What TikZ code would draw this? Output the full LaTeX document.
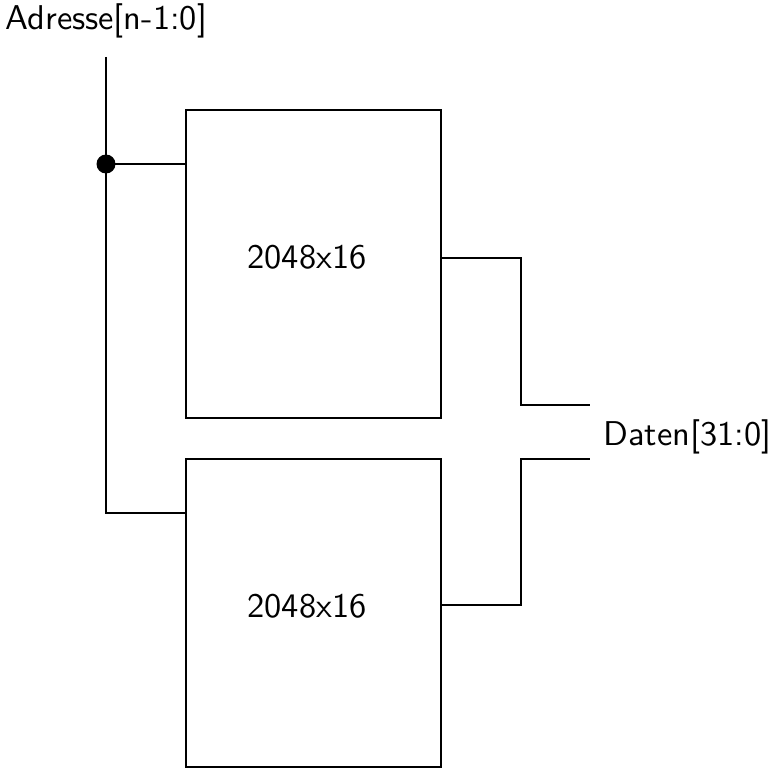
\documentclass[tikz,border=0pt]{standalone}
\usepackage{fontspec}
\setsansfont{lmsans10-regular.otf}
\begin{document}
\begin{tikzpicture}[x=0.75pt,y=-0.75pt,line width=0.8pt,
  lbl/.style={inner sep=0pt,font=\sffamily\fontsize{25.8}{30}\selectfont},
  mem/.style={draw,minimum width=255*0.75pt,minimum height=308*0.75pt,inner sep=0pt}]
\useasboundingbox (0,0) rectangle (778,774);
\node[lbl,anchor=base west] (adr) at (5,30) {Adresse[n-1:0]};
\node[lbl,anchor=base west] (dat) at (603,445) {Daten[31:0]};
\node[mem] (m1) at (313.5,264) {};
\node[mem] (m2) at (313.5,613) {};
\node[lbl,anchor=base] (t1) at (307,268) {2048x16};
\node[lbl,anchor=base] (t2) at (307,617) {2048x16};
\coordinate (top) at (106,57);
\coordinate (j) at (106,164);
\coordinate (b) at (106,513);
\coordinate (o1) at (590,405);
\coordinate (o2) at (590,459);
\draw (top) -- (b) -- (b -| m2.west);
\draw (j) -- (j -| m1.west);
\fill (j) circle[radius=9.5];
\draw (m1.east |- 0,258) -- (521,258) -- (521,405) -- (o1);
\draw (m2.east |- 0,605) -- (521,605) -- (521,459) -- (o2);
\end{tikzpicture}
\end{document}
